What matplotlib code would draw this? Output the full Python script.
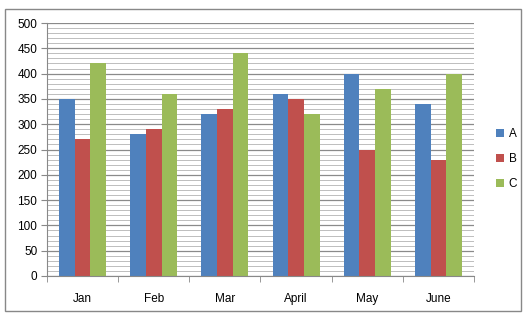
import matplotlib
matplotlib.use("Agg")
import matplotlib.pyplot as plt
import numpy as np
from matplotlib.patches import Rectangle

categories = ["Jan", "Feb", "Mar", "April", "May", "June"]
series_names = ["A", "B", "C"]
values_a = [350, 280, 320, 360, 400, 340]
values_b = [270, 290, 330, 350, 250, 230]
values_c = [420, 360, 440, 320, 370, 400]
colors = ["#4F81BD", "#C0504D", "#9BBB59"]

plt.rcParams['font.family'] = ['Liberation Sans', 'DejaVu Sans']

fig = plt.figure(figsize=(5.31, 3.15), dpi=100)
fig.patches.append(Rectangle((5/531, 1-311/315), 516/531, 302/315, transform=fig.transFigure,
                             fill=False, edgecolor="#888888", linewidth=1.0))
ax = fig.add_axes([47/531, 1-276/315, (474-47)/531, (276-23)/315])

x = np.arange(len(categories))
w = 0.22
for i, (vals, c, n) in enumerate(zip([values_a, values_b, values_c], colors, series_names)):
    ax.bar(x + (i-1)*w, vals, width=w, color=c, label=n, zorder=3)

ax.set_xlim(-0.5, len(categories)-0.5)
ax.set_ylim(0, 500)
ax.set_yticks(np.arange(0, 501, 50))
ax.set_yticks(np.arange(0, 501, 10), minor=True)
ax.grid(axis='y', which='minor', color='#bdbdbd', linewidth=0.7, zorder=0)
ax.grid(axis='y', which='major', color='#8a8a8a', linewidth=0.9, zorder=1)
ax.set_xticks(x)
ax.set_xticklabels(categories)
ax.set_xticks(np.arange(-0.5, len(categories), 1), minor=True)
ax.tick_params(axis='x', which='major', length=0, pad=12, labelsize=8.5)
ax.tick_params(axis='x', which='minor', length=4, color='#888888', direction='out')
ax.tick_params(axis='y', which='major', length=4, color='#888888', labelsize=8.5, pad=3)
ax.tick_params(axis='y', which='minor', length=0)
for s in ['top', 'right']:
    ax.spines[s].set_visible(False)
for s in ['left', 'bottom']:
    ax.spines[s].set_color('#888888')
    ax.spines[s].set_zorder(4)

leg = fig.legend(loc='center left', bbox_to_anchor=(485/531, 1-159/315), frameon=False,
                 fontsize=8.5, handlelength=0.7, handleheight=0.7, handletextpad=0.4,
                 labelspacing=1.1)

fig.savefig("out.png", dpi=100)
